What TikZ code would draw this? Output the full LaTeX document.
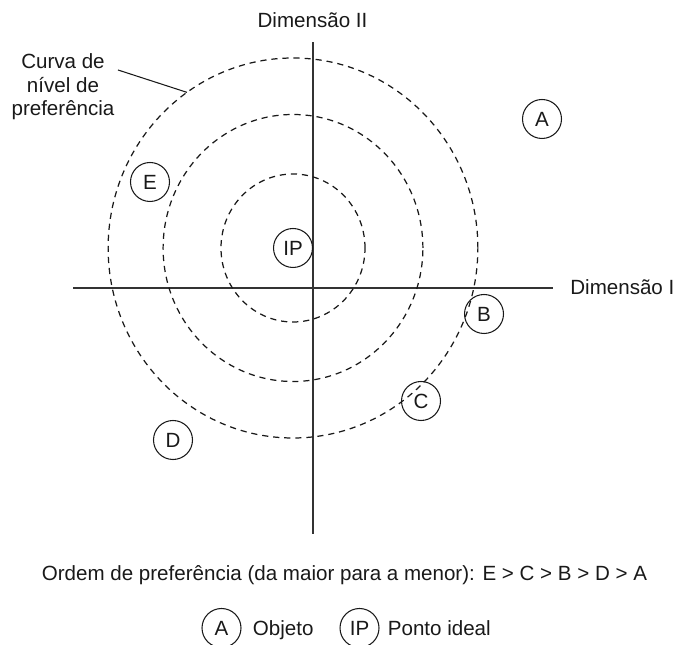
\documentclass[tikz,border=0pt]{standalone}
\usepackage{fontspec}
\setmainfont{Liberation Sans}
\usetikzlibrary{positioning,calc}

\begin{document}
\begin{tikzpicture}[x=1cm,y=1cm,
  font=\fontsize{11.7}{13.3}\selectfont, text=black!90,
  obj/.style={circle,draw=black!90,line width=0.6pt,minimum size=0.78cm,inner sep=0pt},
  eixo/.style={line width=0.8pt,draw=black!80},
  curva/.style={line width=0.7pt,dash pattern=on 3.5pt off 2.8pt,draw=black!90}]
  \useasboundingbox (0,0) rectangle (13.46,12.88);
  % eixos
  \coordinate (yb) at (6.26,2.2); \coordinate (yt) at (6.26,12.04);
  \coordinate (xl) at (1.46,7.12); \coordinate (xr) at (11.06,7.12);
  \draw[eixo] (yb) -- (yt);
  \draw[eixo] (xl) -- (xr);
  \node (dim2) at (6.25,12.48) {Dimensão II};
  \node[anchor=west,inner sep=0pt] (dim1) at (11.4,7.14) {Dimensão I};
  % objetos
  \node[obj] (A) at (10.84,10.5) {A};
  \node[obj] (E) at (3.0,9.24) {E};
  \node[obj] (IP) at (5.86,7.92) {IP};
  \node[obj] (B) at (9.68,6.6) {B};
  \node[obj] (C) at (8.42,4.86) {C};
  \node[obj] (D) at (3.46,4.08) {D};
  % curvas de nivel
  \foreach \r in {1.48,2.67,3.8} \draw[curva] (IP.center) ellipse ({0.973*\r} and \r);
  \node[align=center] (rot) at (1.26,11.14) {Curva de\\nível de\\preferência};
  \coordinate (rs) at (2.36,11.48);
  \coordinate (cv) at ($(IP.center)+({0.973*3.8*cos(125)},{3.8*sin(125)})$);
  \draw[line width=0.6pt,black!90] (rs) -- (cv);
  % legenda
  \node (ordem) at (6.89,1.38) {Ordem de preferência (da maior para a menor): E > C > B > D > A};
  \node[obj] (legA) at (4.43,0.32) {A};
  \node[base right=0.22cm of legA,inner sep=0pt] (legobj) {Objeto};
  \node[obj] (legIP) at (7.19,0.32) {IP};
  \node[base right=0.16cm of legIP,inner sep=0pt] (legpi) {Ponto ideal};
\end{tikzpicture}
\end{document}
